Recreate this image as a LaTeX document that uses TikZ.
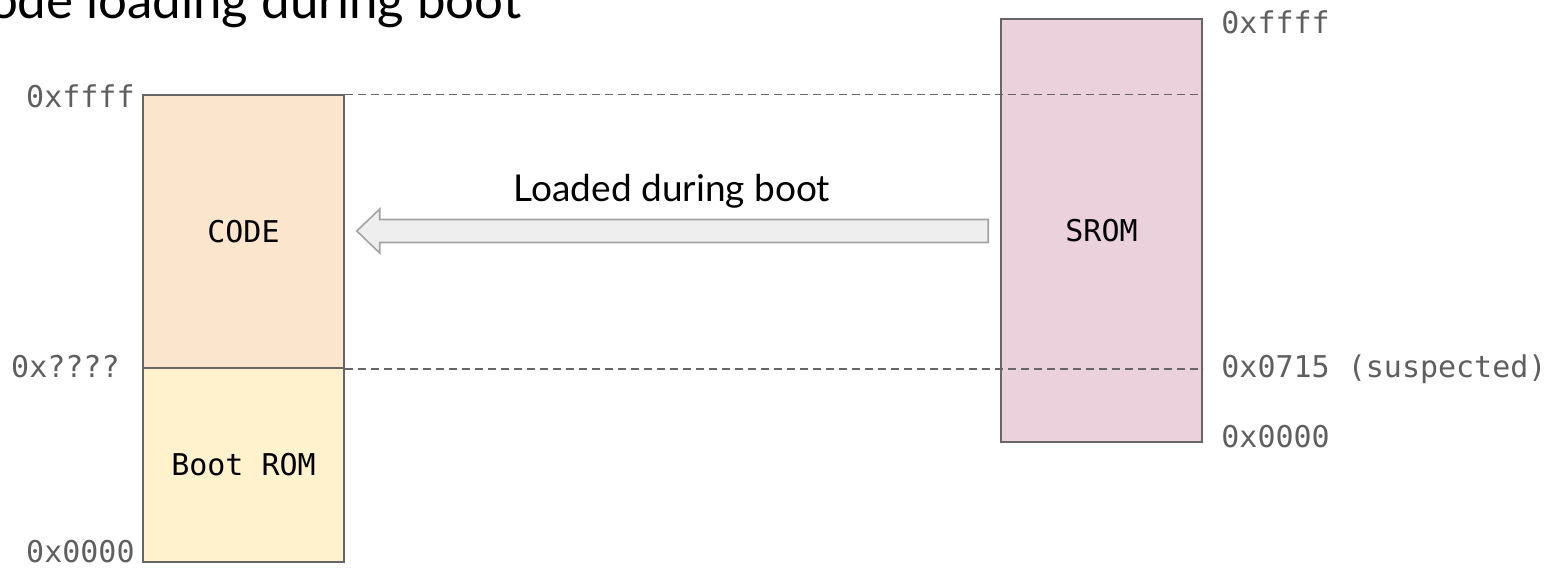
\documentclass[tikz,border=0pt]{standalone}
\usepackage{fontspec}
\setmainfont{Lato}
\newfontfamily\monofont{DejaVu Sans Mono}
\usetikzlibrary{calc}

\definecolor{codefill}{HTML}{FCE5CD}
\definecolor{bootfill}{HTML}{FFF2CC}
\definecolor{sromfill}{HTML}{EAD1DC}
\definecolor{edgegray}{HTML}{666666}
\definecolor{addrgray}{HTML}{5F5F5F}
\definecolor{arrowfill}{HTML}{EEEEEE}
\definecolor{arrowedge}{HTML}{A3A3A3}

\begin{document}
\begin{tikzpicture}[x=0.5pt, y=-0.5pt,
    region/.style={draw=edgegray, line width=0.75pt, minimum width=100.5pt, inner sep=0pt,
        font=\monofont\fontsize{15}{18}\selectfont},
    addr/.style={text=addrgray, inner sep=0pt, font=\monofont\fontsize{15}{18}\selectfont},
    guide/.style={draw=edgegray, line width=0.75pt, dash pattern=on 4pt off 2.5pt},
    bigarrow/.style={draw=arrowedge, fill=arrowfill, line width=0.8pt, line join=miter}]
    \path[use as bounding box] (0,0) rectangle (1560,568);
    \clip (0,0) rectangle (1560,568);

    % Title, runs off the top left
    \node[anchor=base east, inner sep=0pt, font=\fontsize{25.5}{30}\selectfont] (title) at (522,18)
        {Code loading during boot};

    % Memory regions
    \node[region, fill=codefill, minimum height=136.5pt] (code) at (243.5,231.5) {CODE};
    \node[region, fill=bootfill, minimum height=97pt] (boot) at (243.5,465) {Boot ROM};
    \node[region, fill=sromfill, minimum height=211.5pt] (srom) at (1101.5,230.5) {SROM};

    % Addresses
    \node[addr, anchor=base east] (codetop) at (135,107) {0xffff};
    \node[addr, anchor=base east] (codesplit) at (120,377) {0x????};
    \node[addr, anchor=base east] (codebot) at (135,562) {0x0000};
    \node[addr, anchor=base west] (sromtop) at (1221,33) {0xffff};
    \node[addr, anchor=base west] (sromsplit) at (1221,377) {0x0715 (suspected)};
    \node[addr, anchor=base west] (srombot) at (1221,447) {0x0000};

    % Dashed guides across to SROM
    \draw[guide] (code.north east) -- (srom.east |- code.north east);
    \draw[guide] (code.south east) -- (srom.east |- code.south east);

    % Block arrow, SROM into CODE
    \coordinate (tip) at ($(code.east |- 0,231)+(12,0)$);
    \coordinate (tail) at ($(srom.west |- 0,231)+(-12,0)$);
    \draw[bigarrow] (tip) -- ++(23,-22) -- ++(0,10.5) -- ($(tail)+(0,-11.5)$)
        -- ($(tail)+(0,11.5)$) -- ($(tip)+(23,11.5)$) -- ++(0,10.5) -- cycle;
    \node[anchor=base, inner sep=0pt, font=\fontsize{18.5}{22}\selectfont] (loadlabel) at (672,201)
        {Loaded during boot};
\end{tikzpicture}
\end{document}
